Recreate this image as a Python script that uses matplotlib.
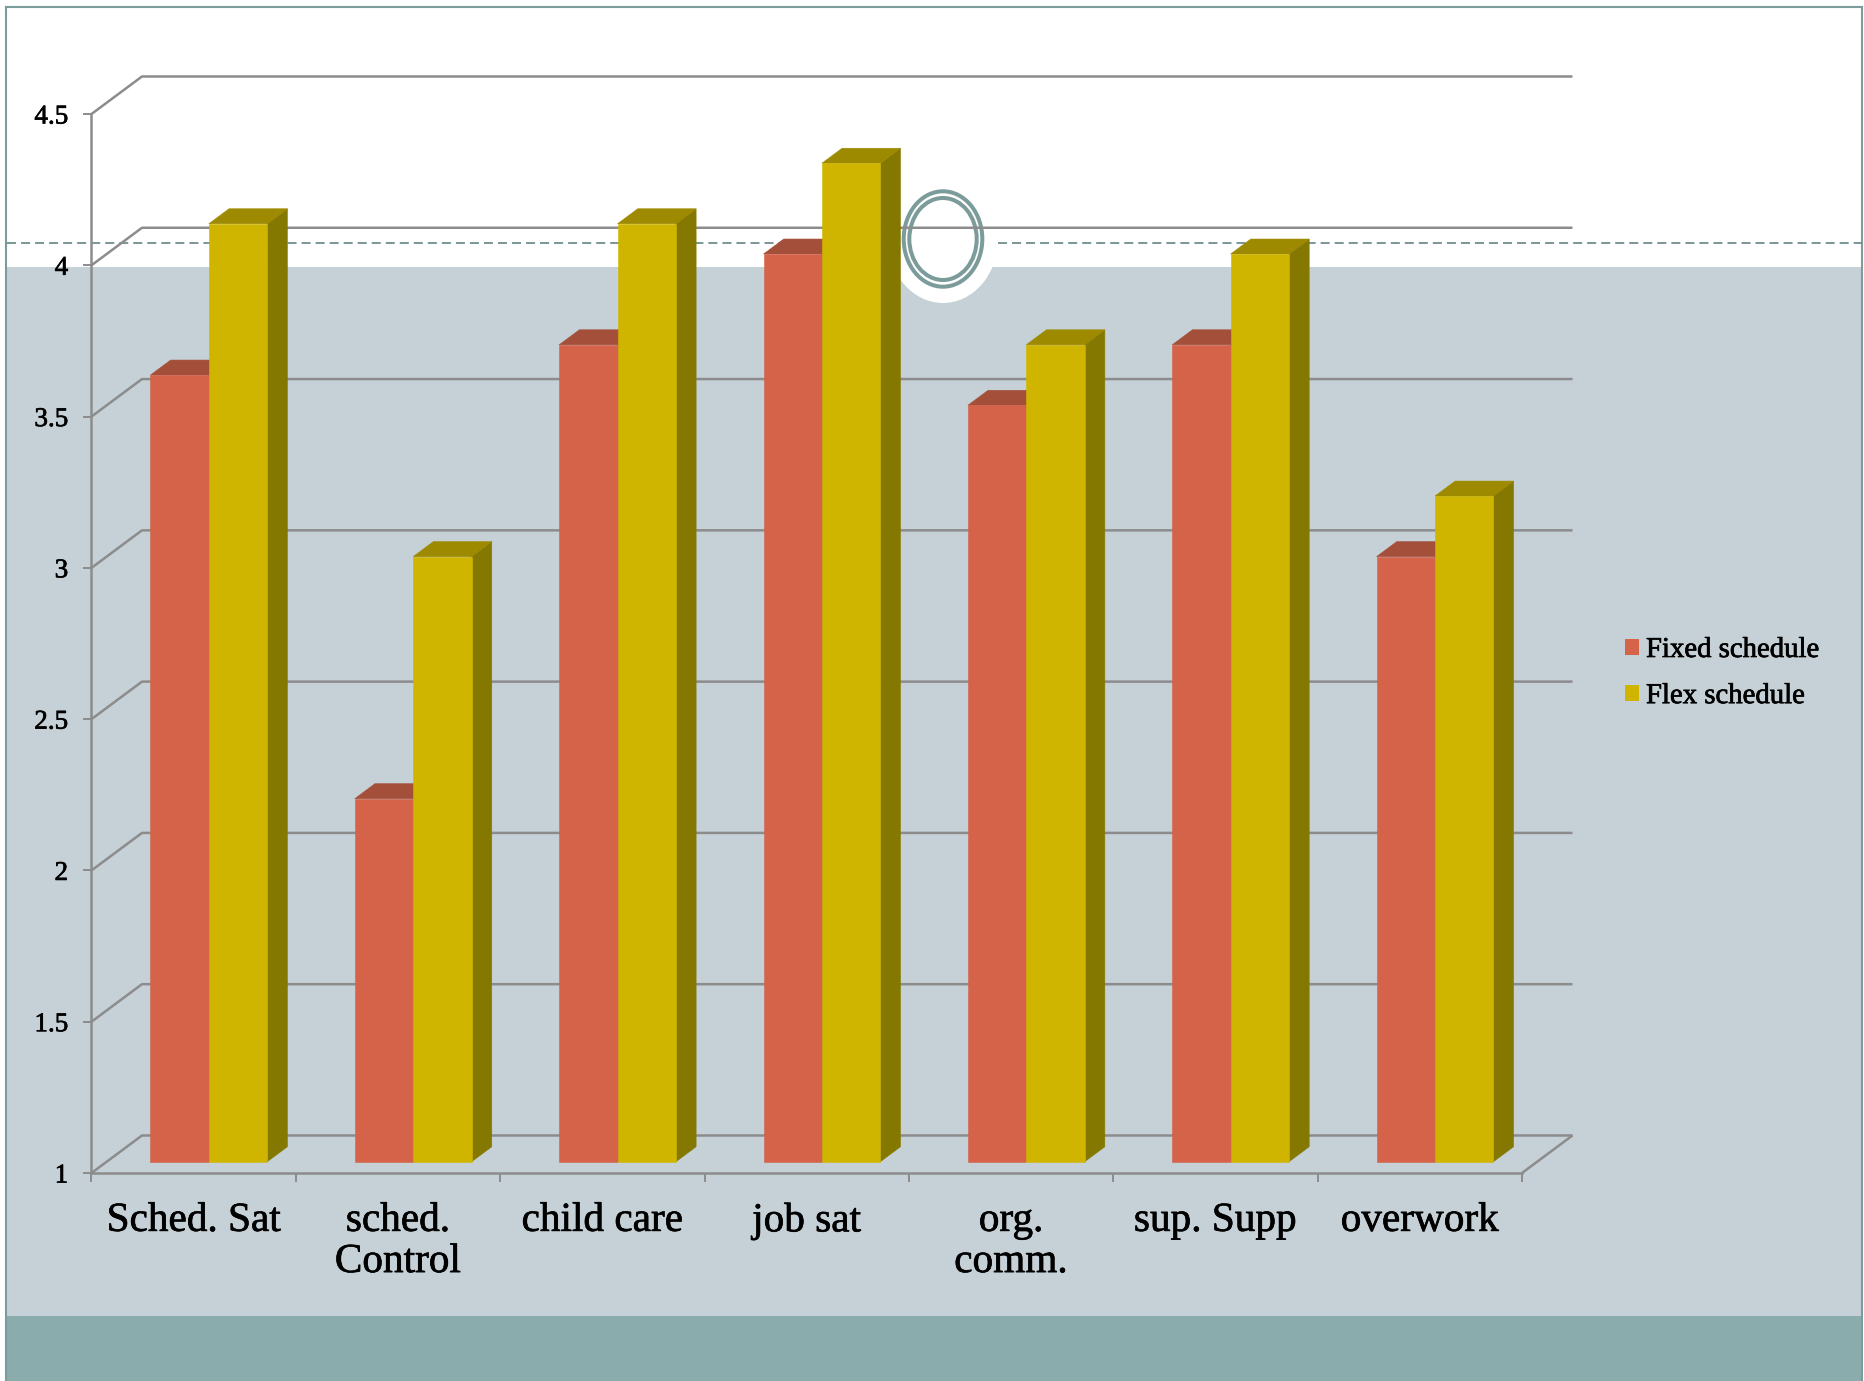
import matplotlib
matplotlib.use("Agg")
import matplotlib.pyplot as plt
import matplotlib.patheffects as pe
from matplotlib.patches import Rectangle, Ellipse, Polygon, Patch

plt.rcParams["font.family"] = ["Liberation Serif", "DejaVu Serif"]
plt.rcParams["lines.scale_dashes"] = False

# ---- data -------------------------------------------------------------
categories = ["Sched. Sat", "sched.\nControl", "child care", "job sat",
              "org.\ncomm.", "sup. Supp", "overwork"]
fixed_schedule = [3.6, 2.2, 3.7, 4.0, 3.5, 3.7, 3.0]
flex_schedule = [4.1, 3.0, 4.1, 4.3, 3.7, 4.0, 3.2]
series_names = ["Fixed schedule", "Flex schedule"]
y_ticks = [1, 1.5, 2, 2.5, 3, 3.5, 4, 4.5]

# ---- style ------------------------------------------------------------
W, H = 1865, 1381
SLIDE_GRAY = "#c5d1d7"
SLIDE_TEAL = "#8bacad"
ACCENT = "#7c9b9b"
DASH = "#6f8e8e"
GRID = "#8c8c8c"
FIXED_COLORS = ("#d4634a", "#a44f3a", "#8e4332")   # front, top, side
FLEX_COLORS = ("#d0b500", "#9e8a00", "#857800")
TEXT_FX = [pe.withStroke(linewidth=0.5, foreground="black")]

fig = plt.figure(figsize=(W / 100, H / 100), dpi=100)
fig.patch.set_facecolor("white")

# ---- slide background (pixel coordinates) -------------------------------
bg = fig.add_axes([0, 0, 1, 1], zorder=0)
bg.set_xlim(0, W)
bg.set_ylim(H, 0)
bg.axis("off")
bg.add_patch(Rectangle((7, 267), W - 10, 1316 - 267, color=SLIDE_GRAY, lw=0))
bg.add_patch(Rectangle((7, 1316), W - 10, H - 1316, color=SLIDE_TEAL, lw=0))
bg.plot([6, 6], [7, H], color=ACCENT, lw=1.5)
bg.plot([6, W - 3], [7, 7], color=ACCENT, lw=1.5)
bg.plot([W - 3, W - 3], [7, H], color=ACCENT, lw=1.5)
bg.plot([7, 898], [242.5, 242.5], color=DASH, lw=1.3, dashes=(6.5, 3.6))
bg.plot([998, W - 3], [242.5, 242.5], color=DASH, lw=1.3, dashes=(6.5, 3.6))
bg.add_patch(Ellipse((943, 239), 110, 128, color="white", lw=0))
bg.add_patch(Ellipse((943, 239), 78.6, 95.4, fill=False, ec=ACCENT, lw=2.9))
bg.add_patch(Ellipse((943, 239), 67.4, 82, fill=False, ec=ACCENT, lw=2.9))

# ---- chart: axes spans the front plane of the 3-D box -------------------
x0_px, x1_px, ytop_px, ybot_px = 91.5, 1522, 114, 1173
ax = fig.add_axes([x0_px / W, 1 - ybot_px / H, (x1_px - x0_px) / W,
                   (ybot_px - ytop_px) / H], zorder=1)
ax.set_facecolor("none")
n = len(categories)
ax.set_xlim(0, n)
ax.set_ylim(1, 4.5)

# depth of the box expressed in data units
DX, DY = 0.247, 0.124
line_kw = dict(color=GRID, lw=1.8, clip_on=False, solid_capstyle="butt",
               zorder=1)

for v in y_ticks:
    ax.plot([0, DX, n + DX], [v, v + DY, v + DY], **line_kw)
ax.plot([n, n + DX], [1, 1 + DY], **line_kw)

for side in ("top", "right"):
    ax.spines[side].set_visible(False)
for side in ("left", "bottom"):
    ax.spines[side].set_color(GRID)
    ax.spines[side].set_linewidth(1.8)

ax.set_yticks(y_ticks)
ax.set_yticklabels([f"{t:g}" for t in y_ticks])
ax.tick_params(axis="y", direction="out", length=5.8, width=1.4,
               color=GRID, pad=11, labelsize=19.5)

ax.set_xticks(range(n + 1))
ax.set_xticklabels([])
ax.set_xticks([i + 0.5 for i in range(n)], minor=True)
ax.set_xticklabels(categories, minor=True)
ax.tick_params(axis="x", which="major", direction="out", length=6.5,
               width=1.4, color=GRID)
ax.tick_params(axis="x", which="minor", length=0, pad=21.5, labelsize=29.7)
for lab in ax.get_xticklabels(minor=True):
    lab.set_linespacing(1.15)
    lab.set_path_effects(TEXT_FX)
for lab in ax.get_yticklabels():
    lab.set_path_effects(TEXT_FX)

# ---- 3-D bars -----------------------------------------------------------
bar_w = 1 / 3.5
front_d, back_d = 0.30, 0.70
fx, fy = front_d * DX, front_d * DY
bx, by = back_d * DX, back_d * DY


def draw_bar(left, value, colors):
    right = left + bar_w
    front = [(left + fx, 1 + fy), (right + fx, 1 + fy),
             (right + fx, value + fy), (left + fx, value + fy)]
    top = [(left + fx, value + fy), (right + fx, value + fy),
           (right + bx, value + by), (left + bx, value + by)]
    side = [(right + fx, 1 + fy), (right + bx, 1 + by),
            (right + bx, value + by), (right + fx, value + fy)]
    for pts, c in ((side, colors[2]), (top, colors[1]), (front, colors[0])):
        ax.add_patch(Polygon(pts, closed=True, fc=c, ec=c, lw=0.4,
                             clip_on=False, zorder=3))


for i in range(n):
    draw_bar(i + 0.5 - bar_w, fixed_schedule[i], FIXED_COLORS)
    draw_bar(i + 0.5, flex_schedule[i], FLEX_COLORS)

# ---- legend -------------------------------------------------------------
handles = [Patch(fc=FIXED_COLORS[0], ec="none"),
           Patch(fc=FLEX_COLORS[0], ec="none")]
leg = fig.legend(handles, series_names, loc="upper left",
                 bbox_to_anchor=(1625 / W, 1 - 637 / H), frameon=False,
                 fontsize=20.7, handlelength=0.49, handleheight=0.49,
                 handletextpad=0.24, labelspacing=0.7, borderpad=0,
                 borderaxespad=0)
for t in leg.get_texts():
    t.set_path_effects(TEXT_FX)

fig.savefig("out.png", dpi=100)
